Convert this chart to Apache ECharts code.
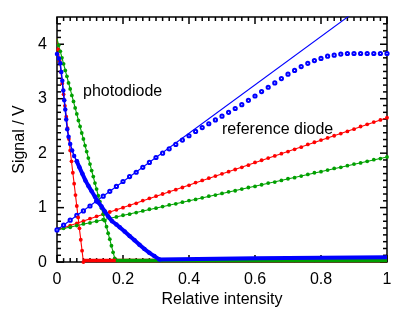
<!DOCTYPE html>
<html>
<head>
<meta charset="utf-8">
<script src="https://cdn.jsdelivr.net/npm/echarts@6/dist/echarts.min.js"></script>
<style>html,body{margin:0;padding:0;background:#fff}#c{width:415px;height:313px}</style>
</head>
<body>
<div id="c"></div>
<script>
// ---- tick values ----
var xTicks = [0, 0.2, 0.4, 0.6, 0.8, 1];
var yTicks = [0, 1, 2, 3, 4];
var xMinorPerMajor = 10;   // minor tick every 0.02
var yMinorPerMajor = 8;    // minor tick every 0.125

// ---- data ----
var refX = [0,0.02,0.04,0.06,0.08,0.10,0.12,0.14,0.16,0.18,0.20,0.22,0.24,0.26,0.28,0.30,0.32,0.34,0.36,0.38,0.40,0.42,0.44,0.46,0.48,0.50,0.52,0.54,0.56,0.58,0.60,0.62,0.64,0.66,0.68,0.70,0.72,0.74,0.76,0.78,0.80,0.82,0.84,0.86,0.88,0.90,0.92,0.94,0.96,0.98,1.00];
var redRef = [0.59,0.63,0.67,0.71,0.75,0.80,0.84,0.88,0.92,0.96,1.00,1.04,1.08,1.13,1.17,1.21,1.25,1.29,1.33,1.37,1.41,1.46,1.50,1.54,1.58,1.62,1.66,1.70,1.74,1.78,1.83,1.87,1.91,1.95,1.99,2.03,2.07,2.11,2.16,2.20,2.24,2.28,2.32,2.36,2.40,2.44,2.49,2.53,2.57,2.61,2.65];
var greenRef = [0.59,0.62,0.64,0.67,0.70,0.72,0.75,0.78,0.80,0.83,0.86,0.88,0.91,0.94,0.97,0.99,1.02,1.05,1.07,1.10,1.13,1.15,1.18,1.21,1.23,1.26,1.29,1.31,1.34,1.37,1.39,1.42,1.45,1.47,1.50,1.53,1.55,1.58,1.61,1.64,1.66,1.69,1.72,1.74,1.77,1.80,1.82,1.85,1.88,1.90,1.93];
var blueRef = [0.59,0.68,0.77,0.86,0.94,1.03,1.12,1.21,1.30,1.39,1.48,1.57,1.65,1.74,1.83,1.92,2.00,2.08,2.16,2.24,2.32,2.40,2.47,2.54,2.61,2.68,2.75,2.82,2.89,2.97,3.05,3.13,3.21,3.29,3.37,3.45,3.52,3.59,3.65,3.70,3.74,3.78,3.80,3.82,3.83,3.83,3.83,3.83,3.83,3.83,3.83];

var redPdX = [0.004,0.008,0.012,0.016,0.020,0.024,0.028,0.032,0.036,0.040,0.044,0.048,0.052,0.056,0.060,0.064,0.068,0.072,0.076,0.080];
var redPd  = [3.90,3.69,3.49,3.28,3.08,2.87,2.67,2.46,2.26,2.05,1.85,1.64,1.44,1.23,1.03,0.82,0.62,0.41,0.21,0.00];
var greenPdX = [0.005,0.010,0.015,0.020,0.025,0.030,0.035,0.040,0.045,0.050,0.055,0.060,0.065,0.070,0.075,0.080,0.085,0.090,0.095,0.100,0.105,0.110,0.115,0.120,0.125,0.130,0.135,0.140,0.145,0.150,0.155,0.160,0.165,0.170,0.175];
var greenPd  = [3.98,3.87,3.75,3.64,3.52,3.41,3.29,3.18,3.06,2.95,2.83,2.72,2.60,2.49,2.37,2.26,2.14,2.03,1.91,1.80,1.68,1.57,1.45,1.34,1.22,1.11,0.99,0.88,0.76,0.65,0.53,0.42,0.30,0.18,0.07];
// blue photodiode: upper (sparse dots) and lower (dense, thick) parts
var bluePdUpX = [0.000,0.006,0.010,0.013,0.016,0.019,0.022,0.025,0.028,0.031,0.035,0.040,0.046,0.052,0.060];
var bluePdUp  = [3.82,3.74,3.65,3.49,3.33,3.15,2.97,2.80,2.62,2.44,2.30,2.17,2.05,1.95,1.85];
var bluePdLowX = [0.060,0.068,0.077,0.086,0.095,0.105,0.115,0.125,0.135,0.145,0.155,0.167,0.180,0.190,0.205,0.220,0.235,0.250,0.265,0.280,0.295,0.310];
var bluePdLow  = [1.85,1.74,1.62,1.50,1.40,1.30,1.20,1.10,1.02,0.93,0.84,0.75,0.69,0.64,0.56,0.48,0.40,0.32,0.24,0.17,0.11,0.05];

// saturated (floor) parts of the photodiode signals
var redFloorX = [0.080, 1.0],  redFloor = [0.03, 0.03];
var greenFloorX = [0.178, 1.0], greenFloor = [0.03, 0.03];
var blueFloorX = [0.310, 0.6, 1.0], blueFloor = [0.05, 0.07, 0.09];

// fit lines (end points)
var redRefFitX = [0, 1], redRefFit = [0.59, 2.65];
var greenRefFitX = [0, 1], greenRefFit = [0.59, 1.93];
var blueRefFitX = [0, 1], blueRefFit = [0.59, 5.03];
var redPdFitX = [0, 0.080], redPdFit = [4.10, 0.0];
var greenPdFitX = [0, 0.178], greenPdFit = [4.10, 0.0];

var RED = '#ff0000', GREEN = '#00a000', BLUE = '#0000ff';
var FONT = 'Liberation Sans';
var FS = 16;

function pairs(xs, ys){ return xs.map(function(x,i){ return [x, ys[i]]; }); }

// tick list: [x, y, kind]; kind 0=x major,1=x minor,2=y major,3=y minor (all inside the axis ranges)
var tickData = [];
xTicks.forEach(function(v,i){
  tickData.push([v, 0, 0]);
  if (i < xTicks.length-1) {
    var step = (xTicks[i+1]-v)/xMinorPerMajor;
    for (var j=1;j<xMinorPerMajor;j++) tickData.push([v+step*j, 0, 1]);
  }
});
yTicks.forEach(function(v){
  tickData.push([0, v, 2]);
  var step = 1/yMinorPerMajor;
  for (var j=1;j<yMinorPerMajor;j++){ var t=v+step*j; if (t<4.5-1e-9) tickData.push([0, t, 3]); }
});

function fit(xs, ys, color, z){
  return {type:'line', data:pairs(xs,ys), showSymbol:false, symbol:'none', silent:true,
    lineStyle:{color:color, width:1.1}, z:z, animation:false};
}
function dots(xs, ys, color, z){
  return {type:'line', data:pairs(xs,ys), symbol:'circle', symbolSize:3.8, showSymbol:true,
    itemStyle:{color:color}, lineStyle:{width:0, opacity:0}, z:z, animation:false};
}
function floor(xs, ys, color, w, z){
  return {type:'line', data:pairs(xs,ys), symbol:'none', lineStyle:{color:color, width:w}, z:z, animation:false};
}

var tickSeries = {
  type:'custom', data:tickData, silent:true, clip:false, z:3, animation:false,
  encode:{x:0, y:1},
  renderItem:function(params, api){
    var k = api.value(2), cs = params.coordSys;
    var st = {stroke:'#000', lineWidth:1.5};
    if (k < 2) {
      var x = api.coord([api.value(0), 0])[0], L = (k === 0) ? 7 : 4;
      var yb = cs.y + cs.height, yt = cs.y;
      return {type:'group', children:[
        {type:'line', shape:{x1:x, y1:yb, x2:x, y2:yb-L}, style:st},
        {type:'line', shape:{x1:x, y1:yt, x2:x, y2:yt+L}, style:st}
      ]};
    }
    var y = api.coord([0, api.value(1)])[1], L2 = (k === 2) ? 7 : 4;
    var xl = cs.x, xr = cs.x + cs.width;
    return {type:'group', children:[
      {type:'line', shape:{x1:xl, y1:y, x2:xl+L2, y2:y}, style:st},
      {type:'line', shape:{x1:xr, y1:y, x2:xr-L2, y2:y}, style:st}
    ]};
  }
};

var chart = echarts.init(document.getElementById('c'));
chart.setOption({
  animation:false,
  title:[
    {text:'photodiode', left:83, top:84, padding:0, textStyle:{color:'#000', fontSize:FS, fontWeight:'normal', fontFamily:FONT}},
    {text:'reference diode', left:222, top:122, padding:0, textStyle:{color:'#000', fontSize:FS, fontWeight:'normal', fontFamily:FONT}}
  ],
  grid:{left:57, right:28, top:17, bottom:44, show:true, borderColor:'#000', borderWidth:1.5, backgroundColor:'transparent'},
  xAxis:{
    type:'value', min:0, max:1, interval:0.2,
    axisLine:{show:false}, axisTick:{show:false}, splitLine:{show:false},
    axisLabel:{color:'#000', fontSize:FS, fontFamily:FONT, margin:9},
    name:'Relative intensity', nameLocation:'middle', nameGap:22,
    nameTextStyle:{color:'#000', fontSize:FS, fontFamily:FONT}
  },
  yAxis:{
    type:'value', min:0, max:4.5, interval:1,
    axisLine:{show:false}, axisTick:{show:false}, splitLine:{show:false},
    axisLabel:{color:'#000', fontSize:FS, fontFamily:FONT, margin:10, showMaxLabel:false},
    name:'Signal / V', nameLocation:'middle', nameGap:13,
    nameTextStyle:{color:'#000', fontSize:FS, fontFamily:FONT}
  },
  series:[
    tickSeries,
    fit(redRefFitX, redRefFit, RED, 3),
    fit(greenRefFitX, greenRefFit, GREEN, 3),
    fit(blueRefFitX, blueRefFit, BLUE, 3),
    fit(redPdFitX, redPdFit, RED, 3),
    fit(greenPdFitX, greenPdFit, GREEN, 3),
    dots(refX, redRef, RED, 4),
    dots(refX, greenRef, GREEN, 4),
    {type:'line', data:pairs(refX, blueRef), symbol:'emptyCircle', symbolSize:3.2, showSymbol:true,
      itemStyle:{color:BLUE, borderWidth:1}, lineStyle:{opacity:0, width:0}, z:4, animation:false},
    dots(redPdX, redPd, RED, 4),
    floor(redFloorX, redFloor, RED, 3.5, 5),
    dots(greenPdX, greenPd, GREEN, 4),
    floor(greenFloorX, greenFloor, GREEN, 3.5, 6),
    {type:'line', data:pairs(bluePdUpX, bluePdUp), symbol:'circle', symbolSize:4.5, showSymbol:true,
      itemStyle:{color:BLUE}, lineStyle:{color:BLUE, width:1.5}, z:7, animation:false},
    {type:'line', data:pairs(bluePdLowX, bluePdLow), symbol:'circle', symbolSize:4.5, showSymbol:true,
      itemStyle:{color:BLUE}, lineStyle:{color:BLUE, width:4}, z:7, animation:false},
    floor(blueFloorX, blueFloor, BLUE, 4, 7)
  ]
});
</script>
</body>
</html>
